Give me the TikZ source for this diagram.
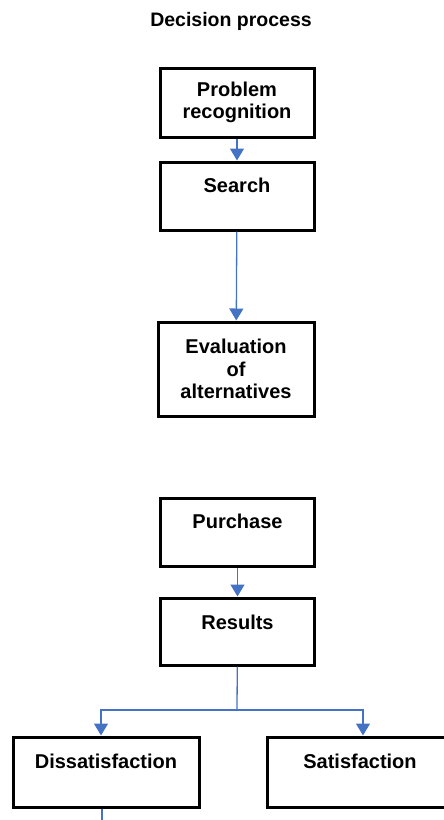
\documentclass[tikz,border=0pt]{standalone}
\usepackage{fontspec}
\setmainfont{Liberation Sans}
\usetikzlibrary{arrows.meta}
\definecolor{linkblue}{RGB}{68,114,196}

\begin{document}
\begin{tikzpicture}[x=1pt, y=-1pt,
  box/.style={draw, line width=3pt, minimum width=154pt, text width=146pt, align=center, inner sep=3pt,
    font=\fontsize{20}{22.5}\selectfont\bfseries},
  topbox/.style={box, text height=14pt, text depth=22pt},
  link/.style={draw=linkblue, line width=1.3pt},
  arrow/.style={link, -{Triangle[width=14pt, length=12pt]}}
]
  \clip (0,0) rectangle (444,820);

  \node[font=\fontsize{19.5}{22}\selectfont\bfseries] (title) at (231,21) {Decision process};

  \node[box, minimum height=69pt] (prob) at (237,102.5) {Problem\\recognition};
  \node[topbox, minimum height=68pt] (search) at (237,196) {Search};
  \node[box, minimum height=94pt, minimum width=156pt] (eval) at (236,369) {Evaluation\\of\\alternatives};
  \node[topbox, minimum height=68pt] (purch) at (237.5,532) {Purchase};
  \node[topbox, minimum height=67pt, text depth=18pt] (res) at (237.5,631.5) {Results};
  \node[topbox, minimum height=70pt, minimum width=186pt, text width=178pt] (dis) at (106,772) {Dissatisfaction};
  \node[topbox, minimum height=70pt, minimum width=186pt, text width=178pt] (sat) at (360,772) {Satisfaction};

  \coordinate (split) at (237,710);
  \coordinate (tail) at (102,825);

  \draw[arrow] (prob) -- (search);
  \draw[arrow] (search) -- (eval);
  \draw[arrow] (purch) -- (res);
  \draw[link] (res) -- (split);
  \draw[arrow] (split) -| ([xshift=-5pt]dis.north);
  \draw[arrow] (split) -| ([xshift=3pt]sat.north);
  \draw[link] ([xshift=-4pt]dis.south) -- (tail);
\end{tikzpicture}
\end{document}
